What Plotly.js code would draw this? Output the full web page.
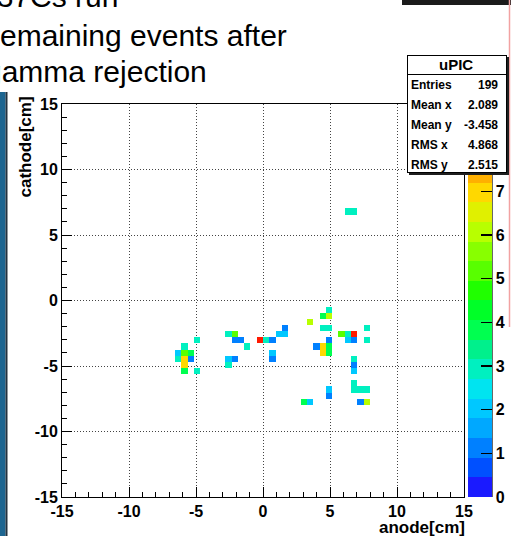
<!DOCTYPE html>
<html>
<head>
<meta charset="utf-8">
<script src="https://cdn.plot.ly/plotly-3.0.1.min.js"></script>
<style>
  html, body { margin: 0; padding: 0; background: #ffffff; }
  #plot { width: 511px; height: 536px; }
</style>
</head>
<body>
<div id="plot"></div>
<script>
// uPIC hit map: 64 x 64 bins over [-15, 15] cm on both strip axes
const nBins = 64;
const axisMin = -15;
const axisMax = 15;

// filled bins (anode bin index, cathode bin index, entries)
const anodeBin = [21, 19, 18, 19, 20, 18, 19, 20, 19, 19, 21,
  26, 27, 27, 28, 29, 26, 27, 26, 31, 32, 33, 34, 35, 35, 33, 33,
  42, 41, 42, 39, 41, 42, 44, 45, 46, 48, 42, 45, 46, 48, 40, 41, 42, 41, 42,
  46, 46, 46, 46, 46, 47, 48, 42, 42, 38, 39, 47, 48, 45, 46];
const cathodeBin = [25, 24, 23, 23, 23, 22, 22, 22, 21, 20, 20,
  26, 26, 25, 25, 24, 22, 22, 21, 25, 25, 25, 26, 26, 27, 23, 22,
  30, 29, 29, 28, 27, 27, 26, 26, 26, 27, 25, 25, 25, 25, 24, 24, 24, 23, 23,
  22, 21, 20, 18, 17, 17, 17, 17, 16, 15, 15, 15, 15, 46, 46];
const counts = [3, 3, 2, 5, 4, 3, 7, 1, 7, 4, 3,
  3, 5, 1, 1, 3, 2, 1, 3, 9, 3, 1, 2, 2, 1, 2, 1,
  3, 4, 6, 6, 3, 3, 5, 3, 9, 3, 1, 2, 1, 3, 1, 7, 4, 7, 4,
  3, 1, 2, 3, 3, 3, 3, 2, 1, 4, 2, 1, 6, 3, 3];

// z range and contour bands of the palette
const zMin = 0;
const zMax = 9;
const bandColors = ['#1a1aff', '#0050ff', '#0080ff', '#00a8ff', '#00c8ff',
  '#00e4f0', '#00f0c0', '#00f08c', '#00ff50', '#00ff28',
  '#20ff00', '#58ff00', '#88ff00', '#b8ff00', '#e0f000',
  '#ffd800', '#ffb000', '#ff8c00', '#ff5000', '#ff1a00'];
const paletteTicks = [0, 1, 2, 3, 4, 5, 6, 7, 8, 9];

// statistics box
const statTitle = 'uPIC';
const statLabels = ['Entries', 'Mean x', 'Mean y', 'RMS x', 'RMS y'];
const statValues = ['199', '2.089', '-3.458', '4.868', '2.515'];

const axisTicks = [-15, -10, -5, 0, 5, 10, 15];
const xTitle = 'anode[cm]';
const yTitle = 'cathode[cm]';
const headerLines = ['137Cs run', 'remaining events after', 'gamma rejection'];

// ---- build the histogram grid ----
const binW = (axisMax - axisMin) / nBins;
const z = [];
for (let r = 0; r < nBins; r++) z.push(new Array(nBins).fill(null));
for (let i = 0; i < counts.length; i++) z[cathodeBin[i]][anodeBin[i]] = counts[i];

const colorscale = [];
bandColors.forEach((c, k) => {
  colorscale.push([k / bandColors.length, c]);
  colorscale.push([(k + 1) / bandColors.length, c]);
});

// page geometry (pixels)
const W = 511, H = 536;
const L = 62, R = 464, T = 104, B = 497;
const px = v => (v - L) / (R - L);
const py = v => (B - v) / (B - T);

const FONT = 'Liberation Sans, Arial, Helvetica, sans-serif';
const bold = s => '<b>' + s + '</b>';

const heat = {
  type: 'heatmap',
  z: z,
  x0: axisMin + binW / 2, dx: binW,
  y0: axisMin + binW / 2, dy: binW,
  zmin: zMin, zmax: zMax,
  colorscale: colorscale,
  hoverinfo: 'skip',
  colorbar: {
    x: px(468), xanchor: 'left', xpad: 0,
    y: 0, yanchor: 'bottom', ypad: 0,
    len: 1, lenmode: 'fraction',
    thickness: 24, thicknessmode: 'pixels',
    outlinewidth: 0,
    tickmode: 'array', tickvals: paletteTicks,
    ticktext: paletteTicks.map(v => bold(v)),
    ticks: 'inside', ticklen: 11, tickwidth: 1.5, tickcolor: '#000',
    tickfont: { family: FONT, size: 16, color: '#000' }
  }
};

const axisCommon = {
  range: [axisMin, axisMax],
  tickmode: 'array', tickvals: axisTicks,
  ticktext: axisTicks.map(v => bold(v)),
  ticks: 'inside', ticklen: 10, tickwidth: 1, tickcolor: '#000',
  minor: { dtick: 1, tick0: axisMin, ticks: 'inside', ticklen: 5, tickcolor: '#000', tickwidth: 1, showgrid: false },
  showline: true, linecolor: '#000', linewidth: 1, mirror: true,
  showgrid: true, gridcolor: '#444', gridwidth: 1, griddash: '1px,2px',
  zeroline: false,
  tickfont: { family: FONT, size: 16, color: '#000' },
  fixedrange: true
};

const shapes = [
  // slide decoration: blue side band and its dark edge
  { type: 'rect', xref: 'paper', yref: 'paper', x0: px(0), x1: px(5.5), y0: py(92), y1: py(H + 2),
    fillcolor: '#1d6590', line: { width: 0 } },
  { type: 'rect', xref: 'paper', yref: 'paper', x0: px(5.5), x1: px(7.5), y0: py(92), y1: py(H + 2),
    fillcolor: '#23323f', line: { width: 0 } },
  // dark bar at the top right
  { type: 'rect', xref: 'paper', yref: 'paper', x0: px(402), x1: px(W + 2), y0: py(5), y1: py(-2),
    fillcolor: '#1b1b1b', line: { width: 0 } },
  // thin red guide line at the right edge
  { type: 'line', xref: 'paper', yref: 'paper', x0: px(509.5), x1: px(509.5), y0: py(0), y1: py(327),
    line: { color: '#f2a2a2', width: 1.5 } },
  // palette axis line
  { type: 'line', xref: 'paper', yref: 'paper', x0: px(492), x1: px(492), y0: py(T), y1: py(B),
    line: { color: '#000', width: 1.2 } }
];

const annotations = [];
// header text lines (left edge of each line, vertical centre)
const headerX = [-20, -10, -15];
const headerY = [-4, 35, 72];
headerLines.forEach((t, i) => {
  annotations.push({ xref: 'paper', yref: 'paper', x: px(headerX[i]), y: py(headerY[i]),
    xanchor: 'left', yanchor: 'middle', showarrow: false, text: t, borderpad: 0, borderwidth: 0,
    font: { family: FONT, size: 30, color: '#000' } });
});
// axis titles
annotations.push({ xref: 'paper', yref: 'paper', x: px(466), y: py(527), xanchor: 'right', yanchor: 'middle',
  showarrow: false, text: bold(xTitle), borderpad: 0, font: { family: FONT, size: 17, color: '#000' } });
annotations.push({ xref: 'paper', yref: 'paper', x: px(25), y: py(96), xanchor: 'center', yanchor: 'top',
  textangle: -90, showarrow: false, text: bold(yTitle), borderpad: 0, font: { family: FONT, size: 17, color: '#000' } });

// statistics box: shadow, header cell, body cell, then text
annotations.push({ xref: 'paper', yref: 'paper', x: px(409), y: py(57), xanchor: 'left', yanchor: 'top',
  showarrow: false, text: '&nbsp;', width: 100, height: 118, bgcolor: '#1e1e1e', borderwidth: 0, borderpad: 0 });
annotations.push({ xref: 'paper', yref: 'paper', x: px(407), y: py(74), xanchor: 'left', yanchor: 'top',
  showarrow: false, text: '&nbsp;', width: 98, height: 97, bgcolor: '#ffffff', bordercolor: '#000', borderwidth: 1, borderpad: 0 });
annotations.push({ xref: 'paper', yref: 'paper', x: px(407), y: py(55), xanchor: 'left', yanchor: 'top',
  showarrow: false, text: '&nbsp;', width: 98, height: 18, bgcolor: '#ffffff', bordercolor: '#000', borderwidth: 1, borderpad: 0 });
annotations.push({ xref: 'paper', yref: 'paper', x: px(456), y: py(65), xanchor: 'center', yanchor: 'middle',
  showarrow: false, text: bold(statTitle), borderpad: 0, font: { family: FONT, size: 15, color: '#000' } });
statLabels.forEach((lab, i) => {
  const yy = py(85 + 20 * i);
  annotations.push({ xref: 'paper', yref: 'paper', x: px(410), y: yy, xanchor: 'left', yanchor: 'middle',
    showarrow: false, text: bold(lab), borderpad: 0, font: { family: FONT, size: 12, color: '#000' } });
  annotations.push({ xref: 'paper', yref: 'paper', x: px(499), y: yy, xanchor: 'right', yanchor: 'middle',
    showarrow: false, text: bold(statValues[i]), borderpad: 0, font: { family: FONT, size: 12, color: '#000' } });
});

const layout = {
  width: W, height: H,
  margin: { l: L, r: W - R, t: T, b: H - B, pad: 0, autoexpand: false },
  paper_bgcolor: '#ffffff', plot_bgcolor: '#ffffff',
  showlegend: false,
  xaxis: Object.assign({}, axisCommon),
  yaxis: Object.assign({}, axisCommon),
  shapes: shapes,
  annotations: annotations
};

Plotly.newPlot('plot', [heat], layout, { staticPlot: true, displayModeBar: false });
</script>
</body>
</html>
